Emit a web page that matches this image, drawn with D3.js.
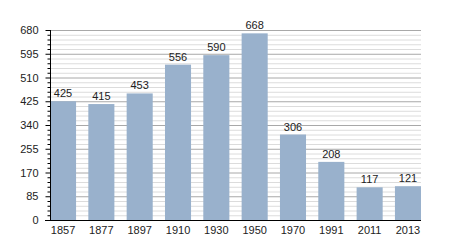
<!DOCTYPE html>
<html><head><meta charset="utf-8">
<script src="https://cdn.jsdelivr.net/npm/d3@7"></script>
<style>body{margin:0;background:#fff}svg{display:block}text{font-family:"Liberation Sans",Arial,sans-serif}</style>
</head><body>
<svg id="c" width="450" height="250"></svg>
<script>
const years = ["1857","1877","1897","1910","1930","1950","1970","1991","2011","2013"];
const values = [425,415,453,556,590,668,306,208,117,121];
const majorTicks = [0,85,170,255,340,425,510,595,680];
const minorStep = 17;

(function () {
const svg = d3.select("#c");
const mLeft = 50, mRight = 421, mTop = 30, mBottom = 220;
const x = d3.scaleBand().domain(years).range([mLeft, mRight]).paddingInner(0.32).paddingOuter(0);
const y = d3.scaleLinear().domain([0, 680]).range([mBottom, mTop]);
const minor = d3.range(0, 680 + 1, minorStep).filter(v => !majorTicks.includes(v));

svg.append("g").selectAll("line").data(minor).join("line")
  .attr("x1", mLeft).attr("x2", mRight).attr("y1", d => y(d) + 0.5).attr("y2", d => y(d) + 0.5)
  .attr("stroke", "#dcdcdc").attr("stroke-width", 1);
svg.append("g").selectAll("line").data(majorTicks.filter(d => d > 0)).join("line")
  .attr("x1", mLeft).attr("x2", mRight).attr("y1", d => y(d) + 0.5).attr("y2", d => y(d) + 0.5)
  .attr("stroke", "#a8a8a8").attr("stroke-width", 1);

svg.append("g").selectAll("rect").data(values).join("rect")
  .attr("x", (d, i) => x(years[i])).attr("width", x.bandwidth())
  .attr("y", d => y(d)).attr("height", d => mBottom - y(d))
  .attr("fill", "#99b1cc");

svg.append("g").selectAll("text").data(values).join("text")
  .attr("x", (d, i) => x(years[i]) + x.bandwidth() / 2).attr("y", d => y(d) - 4)
  .attr("text-anchor", "middle").attr("font-size", 11).attr("fill", "#222").text(d => d);

// y axis
const ya = svg.append("g").attr("transform", `translate(${mLeft + 0.5},0)`);
ya.call(d3.axisLeft(y).tickValues(majorTicks).tickSize(5).tickPadding(7).tickFormat(d3.format("d")));
ya.selectAll(".tick text").attr("font-size", 11).attr("fill", "#222").attr("font-family", "Liberation Sans, Arial, sans-serif");
ya.selectAll(".tick line").attr("stroke", "#000");
ya.select(".domain").attr("d", `M0,${mTop}V${mBottom}`).attr("stroke", "#000");
ya.append("g").selectAll("line").data(minor).join("line")
  .attr("x1", -3).attr("x2", 0).attr("y1", d => y(d) + 0.5).attr("y2", d => y(d) + 0.5).attr("stroke", "#000");

// x axis
const xa = svg.append("g").attr("transform", `translate(0,${mBottom + 0.5})`);
xa.call(d3.axisBottom(x).tickSize(0).tickPadding(6));
xa.select(".domain").attr("d", `M${mLeft - 5},0H${mRight}`).attr("stroke", "#000");
xa.selectAll(".tick text").attr("font-size", 11).attr("fill", "#222").attr("font-family", "Liberation Sans, Arial, sans-serif");
})();
</script>
</body></html>
